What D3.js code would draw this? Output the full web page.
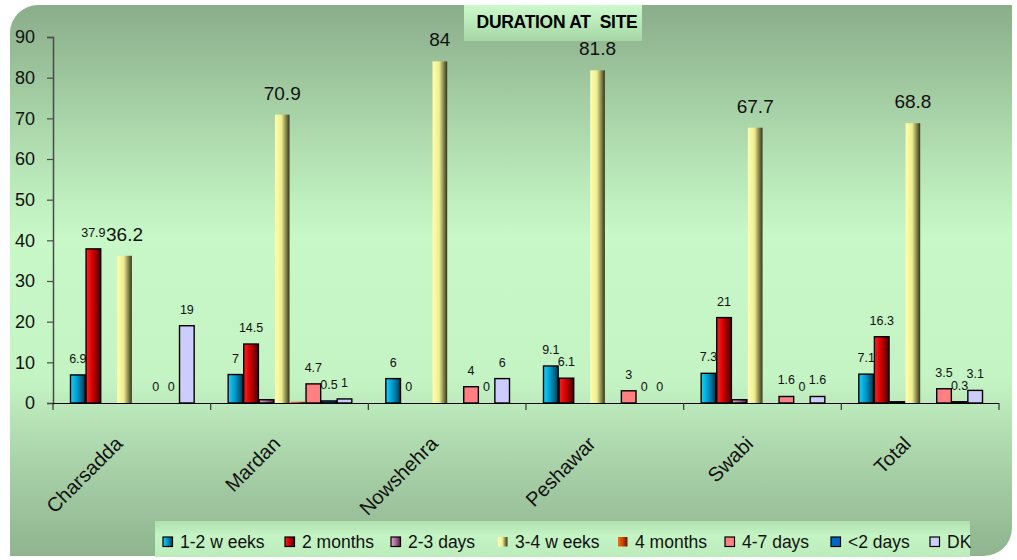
<!DOCTYPE html>
<html><head><meta charset="utf-8">
<script src="https://cdn.jsdelivr.net/npm/d3@7"></script>
<style>
html,body{margin:0;padding:0;background:#fff;}
svg{display:block;font-family:Arial,"Liberation Sans",sans-serif;}
</style></head><body>
<svg id="chart" width="1017" height="560"></svg>
<script>
// Districts on the x axis
const categories = ["Charsadda", "Mardan", "Nowshehra", "Peshawar", "Swabi", "Total"];

// One array per duration bucket (percent); null = no bar drawn
const weeks1to2 = [6.9, 7, 6, 9.1, 7.3, 7.1];
const months2   = [37.9, 14.5, 0, 6.1, 21, 16.3];
const days2to3  = [null, 0.8, null, null, 0.8, 0.3];
const weeks3to4 = [36.2, 70.9, 84, 81.8, 67.7, 68.8];
const months4   = [null, 0.3, null, null, null, null];
const days4to7  = [0, 4.7, 4, 3, 1.6, 3.5];
const under2days = [0, 0.5, 0, 0, 0, 0.3];
const dontKnow  = [19, 1, 6, 0, 1.6, 3.1];

const seriesNames = ["1-2 w eeks", "2 months", "2-3 days", "3-4 w eeks", "4 months", "4-7 days", "<2 days", "DK"];
const seriesValues = [weeks1to2, months2, days2to3, weeks3to4, months4, days4to7, under2days, dontKnow];
const yTicks = [0, 10, 20, 30, 40, 50, 60, 70, 80, 90];
const chartTitle = "DURATION AT  SITE";

// Styling per series
const styles = [
  {stops: ["#19d0ff", "#009ccc", "#003a55"], stroke: true, labels: true, big: false},
  {stops: ["#ff2020", "#d00000", "#480000"], stroke: true, labels: true, big: false},
  {stops: ["#e8a0d0", "#b070a0", "#502040"], stroke: true, labels: false, big: false},
  {stops: ["#ffffb0", "#eeee90", "#343418"], stroke: false, labels: true, big: true},
  {stops: ["#ff6a00", "#d04800", "#5a1c00"], stroke: false, labels: false, big: false},
  {stops: ["#ff8080", "#ff8080", "#ff8080"], stroke: true, labels: true, big: false},
  {stops: ["#0066cc", "#0066cc", "#0066cc"], stroke: true, labels: true, big: false},
  {stops: ["#ccccff", "#ccccff", "#ccccff"], stroke: true, labels: true, big: false}
];
// Legend entry x positions
const legendX = [163, 285, 391, 498, 618, 725, 831, 930];

const svg = d3.select("#chart");
const defs = svg.append("defs");

// Background panel gradient
const bg = defs.append("linearGradient").attr("id", "panelGrad")
  .attr("x1", 0).attr("y1", 0).attr("x2", 0).attr("y2", 1);
[[0, "#8aad8a"], [0.28, "#b4e2b4"], [0.42, "#c8f8c8"], [0.68, "#c4f4c4"], [0.8, "#aed8ae"], [1, "#8fb48f"]]
  .forEach(([o, c]) => bg.append("stop").attr("offset", o).attr("stop-color", c));

const tg = defs.append("linearGradient").attr("id", "titleGrad")
  .attr("x1", 0).attr("y1", 0).attr("x2", 0).attr("y2", 1);
[[0, "#ccfacc"], [1, "#a6d6a6"]]
  .forEach(([o, c]) => tg.append("stop").attr("offset", o).attr("stop-color", c));

const lg = defs.append("linearGradient").attr("id", "legendGrad")
  .attr("x1", 0).attr("y1", 0).attr("x2", 0).attr("y2", 1);
[[0, "#b0e0b0"], [0.4, "#c4f4c4"], [1, "#bcecbc"]]
  .forEach(([o, c]) => lg.append("stop").attr("offset", o).attr("stop-color", c));

styles.forEach((s, i) => {
  const g = defs.append("linearGradient").attr("id", "barGrad" + i)
    .attr("x1", 0).attr("y1", 0).attr("x2", 1).attr("y2", 0);
  g.append("stop").attr("offset", 0).attr("stop-color", s.stops[0]);
  g.append("stop").attr("offset", 0.45).attr("stop-color", s.stops[1]);
  g.append("stop").attr("offset", 1).attr("stop-color", s.stops[2]);
});

// Panel with rounded top-left and bottom-right corners
const L = 10, T = 5, R = 1012, B = 556, rad = 28;
svg.append("path")
  .attr("d", `M${L + rad},${T} H${R} V${B - rad} A${rad},${rad} 0 0 1 ${R - rad},${B} H${L} V${T + rad} A${rad},${rad} 0 0 1 ${L + rad},${T} Z`)
  .attr("fill", "url(#panelGrad)");

// Title box
svg.append("rect").attr("x", 464).attr("y", 5).attr("width", 178).attr("height", 36)
  .attr("fill", "url(#titleGrad)");
svg.append("text").attr("x", 557).attr("y", 27.5).attr("text-anchor", "middle")
  .attr("font-size", 17.5).attr("font-weight", "bold").attr("letter-spacing", -0.3)
  .attr("fill", "#000").style("white-space", "pre")
  .text(chartTitle);

// Scales
const x0 = d3.scaleBand().domain(categories).range([53, 999]).padding(0);
const bw = x0.bandwidth();
const x1 = d3.scaleBand().domain(d3.range(seriesNames.length))
  .range([17.5, bw - 16.5]).paddingInner(0.06);
const y = d3.scaleLinear().domain([0, 90]).range([403, 37]);

// Y axis
const yAxis = d3.axisLeft(y).tickValues(yTicks).tickSize(6).tickPadding(12);
const yg = svg.append("g").attr("transform", "translate(53,0)").call(yAxis);
yg.select(".domain").attr("stroke", "#4a4a4a").attr("stroke-width", 1.5);
yg.selectAll(".tick line").attr("stroke", "#4a4a4a").attr("stroke-width", 1.2);
yg.selectAll(".tick text").attr("font-size", 18).attr("fill", "#111")
  .attr("font-family", "Arial, 'Liberation Sans', sans-serif");

// Bars
const groups = svg.append("g").selectAll("g").data(categories).join("g")
  .attr("transform", d => `translate(${x0(d)},0)`);

seriesValues.forEach((vals, si) => {
  const st = styles[si];
  groups.each(function (cat, ci) {
    const v = vals[ci];
    if (v === null) return;
    const g = d3.select(this);
    const h = y(0) - y(v);
    if (v > 0) {
      g.append("rect")
        .attr("x", x1(si)).attr("y", y(v))
        .attr("width", x1.bandwidth()).attr("height", Math.max(h, 0.8))
        .attr("fill", `url(#barGrad${si})`)
        .attr("stroke", st.stroke ? "#000" : "none")
        .attr("stroke-width", st.stroke ? 1.4 : 0);
    }
    if (st.labels) {
      g.append("text")
        .attr("x", x1(si) + x1.bandwidth() / 2)
        .attr("y", y(v) - (st.big ? 15 : 12))
        .attr("text-anchor", "middle")
        .attr("font-size", st.big ? 19 : 12.5)
        .attr("fill", "#111")
        .text(v);
    }
  });
});

// X axis
const xAxisG = svg.append("g");
xAxisG.append("line").attr("x1", 53).attr("x2", 999).attr("y1", 403.5).attr("y2", 403.5)
  .attr("stroke", "#000").attr("stroke-width", 1.2);
const bounds = categories.map(c => x0(c)).concat([999]);
xAxisG.selectAll("line.tk").data(bounds).join("line").attr("class", "tk")
  .attr("x1", d => d).attr("x2", d => d).attr("y1", 403).attr("y2", 410)
  .attr("stroke", "#333").attr("stroke-width", 1.2);
xAxisG.selectAll("text").data(categories).join("text")
  .attr("transform", d => `translate(${x0(d) + bw / 2 - 8},445) rotate(-45)`)
  .attr("text-anchor", "end")
  .attr("font-size", 20).attr("fill", "#111")
  .text(d => d);

// Legend
svg.append("rect").attr("x", 155).attr("y", 521).attr("width", 815).attr("height", 36)
  .attr("fill", "url(#legendGrad)");
seriesNames.forEach((name, si) => {
  const st = styles[si];
  const lx = legendX[si];
  svg.append("rect").attr("x", lx).attr("y", 537).attr("width", 9.5).attr("height", 9.5)
    .attr("fill", `url(#barGrad${si})`)
    .attr("stroke", st.stroke ? "#000" : "none").attr("stroke-width", 1.2);
  svg.append("text").attr("x", lx + 17).attr("y", 547.5)
    .attr("font-size", 17.5).attr("fill", "#111").text(name);
});
</script>
</body></html>
